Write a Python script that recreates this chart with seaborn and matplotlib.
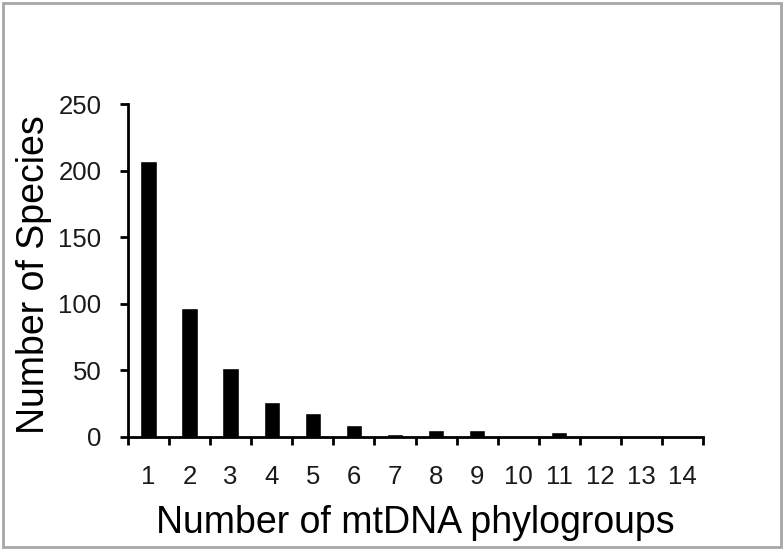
import matplotlib
matplotlib.use("Agg")
import matplotlib.pyplot as plt
import seaborn as sns
import pandas as pd
import numpy as np
from matplotlib.patches import Rectangle

categories = [str(i) for i in range(1, 15)]
species = [207, 97, 52, 26, 18, 9, 2, 5, 5, 0, 3.5, 1, 1, 0]
y_ticks = [0, 50, 100, 150, 200, 250]

sns.set_theme(style="white")
plt.rcParams['font.family'] = ['Liberation Sans', 'DejaVu Sans']

W, H = 784, 551
fig = plt.figure(figsize=(W / 100, H / 100), dpi=100)
ax_l, ax_r, ax_t, ax_b = 128, 703, 104, 437
ax = fig.add_axes([ax_l / W, 1 - ax_b / H, (ax_r - ax_l) / W, (ax_b - ax_t) / H])

df = pd.DataFrame({"cat": categories, "val": species})
sns.barplot(data=df, x="cat", y="val", color="black", width=0.4, ax=ax, saturation=1)

ax.set_xlim(-0.5, 13.5)
ax.set_ylim(0, 250)
ax.set_yticks(y_ticks)
ax.set_xticks(np.arange(14))
ax.set_xticklabels(categories)
ax.set_xticks(np.arange(-0.5, 14, 1), minor=True)

for s in ["top", "right"]:
    ax.spines[s].set_visible(False)
for s in ["left", "bottom"]:
    ax.spines[s].set_color("black")
    ax.spines[s].set_linewidth(2)

ax.tick_params(axis="x", which="major", length=0, labelsize=18.5, pad=20, colors="#1a1a1a")
ax.tick_params(axis="x", which="minor", length=6, width=2, direction="out", color="black", bottom=True)
ax.tick_params(axis="y", which="major", length=6, width=2, direction="out", labelsize=18.5,
               colors="#1a1a1a", left=True, pad=13)
ax.tick_params(axis="y", which="major", color="black")

aw, ah = ax_r - ax_l, ax_b - ax_t
ax.set_xlabel("Number of mtDNA phylogroups", fontsize=27, color="black")
ax.xaxis.set_label_coords(0.5, -(505 - ax_b) / ah)
ax.set_ylabel("Number of Species", fontsize=27, color="black")
ax.yaxis.set_label_coords(-(ax_l - 52) / aw, (ax_b - 275) / ah)

fig.patches.append(Rectangle((3 / W, 1 - 547 / H), (781 - 3) / W, (547 - 3) / H,
                             transform=fig.transFigure, fill=False,
                             edgecolor="#a6a6a6", linewidth=2))

fig.savefig("out.png", dpi=100)
